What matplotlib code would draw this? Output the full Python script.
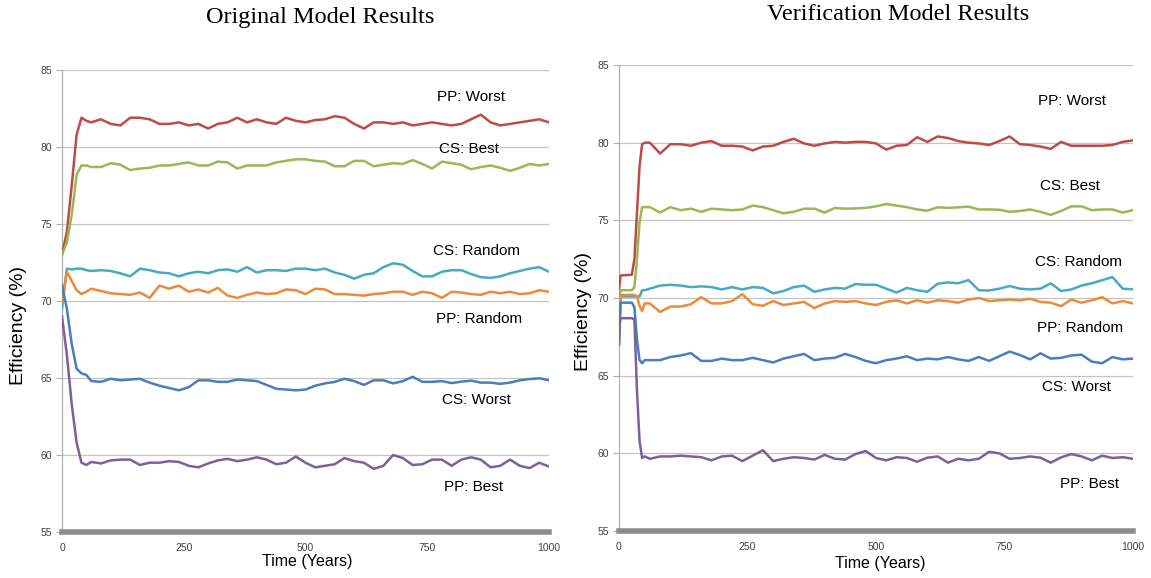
import matplotlib
matplotlib.use("Agg")
import matplotlib.pyplot as plt

# tiempos (años) de cada panel
years_orig = [0, 10, 20, 30, 40, 50] + list(range(60, 1001, 20))
years_verif = [0, 3, 25, 30, 35, 40, 45, 50] + list(range(60, 1001, 20))

# Original Model Results
orig_pp_worst = [73.0, 74.5, 77.5, 80.8, 81.9, 81.7,
                 81.6, 81.8, 81.5, 81.4, 81.9, 81.9, 81.8, 81.5,
                 81.5, 81.6, 81.4, 81.5, 81.2, 81.5, 81.6, 81.9, 81.6, 81.8,
                 81.6, 81.5, 81.9, 81.7, 81.6, 81.75, 81.8, 82.0, 81.9, 81.5,
                 81.2, 81.6, 81.6, 81.5, 81.6, 81.4, 81.5, 81.6, 81.5, 81.4,
                 81.5, 81.8, 82.1, 81.6, 81.4, 81.5, 81.6, 81.7, 81.8, 81.6]
orig_cs_best = [73.0, 73.8, 75.6, 78.2, 78.8, 78.8,
                78.7, 78.7, 78.95, 78.85, 78.5, 78.6, 78.65, 78.8,
                78.8, 78.9, 79.0, 78.8, 78.8, 79.05, 79.0, 78.6, 78.8, 78.8,
                78.8, 79.0, 79.1, 79.2, 79.2, 79.1, 79.05, 78.75, 78.75, 79.1,
                79.1, 78.75, 78.85, 78.95, 78.9, 79.15, 78.9, 78.6, 79.05, 78.95,
                78.85, 78.55, 78.7, 78.8, 78.65, 78.45, 78.65, 78.9, 78.8, 78.9]
orig_cs_random = [69.5, 72.1, 72.05, 72.1, 72.1, 72.0,
                  71.95, 72.0, 71.95, 71.8, 71.6, 72.1, 72.0, 71.85,
                  71.8, 71.6, 71.8, 71.9, 71.8, 72.0, 72.05, 71.9, 72.2, 71.85,
                  72.0, 72.0, 71.95, 72.1, 72.1, 72.0, 72.1, 71.85, 71.7, 71.45,
                  71.7, 71.8, 72.2, 72.45, 72.35, 71.95, 71.6, 71.6, 71.9, 72.0,
                  72.0, 71.75, 71.55, 71.5, 71.6, 71.8, 71.95, 72.1, 72.2, 71.9]
orig_pp_random = [70.0, 71.9, 71.3, 70.7, 70.45, 70.6,
                  70.8, 70.65, 70.5, 70.45, 70.4, 70.55, 70.2, 71.0,
                  70.8, 71.0, 70.6, 70.75, 70.55, 70.85, 70.35, 70.2, 70.4, 70.55,
                  70.45, 70.5, 70.75, 70.7, 70.45, 70.8, 70.75, 70.45, 70.45, 70.4,
                  70.35, 70.45, 70.5, 70.6, 70.6, 70.4, 70.6, 70.5, 70.2, 70.6,
                  70.55, 70.45, 70.4, 70.6, 70.5, 70.6, 70.45, 70.5, 70.7, 70.6]
orig_cs_worst = [71.0, 69.5, 67.2, 65.6, 65.3, 65.2,
                 64.8, 64.75, 64.95, 64.85, 64.9, 64.95, 64.7, 64.5,
                 64.35, 64.2, 64.4, 64.85, 64.85, 64.75, 64.75, 64.9, 64.85, 64.8,
                 64.55, 64.3, 64.25, 64.2, 64.25, 64.5, 64.65, 64.75, 64.95, 64.8,
                 64.55, 64.85, 64.85, 64.65, 64.8, 65.08, 64.75, 64.75, 64.8, 64.67,
                 64.76, 64.83, 64.7, 64.7, 64.62, 64.7, 64.85, 64.93, 64.98, 64.85]
orig_pp_best = [69.0, 66.5, 63.3, 60.8, 59.5, 59.35,
                59.55, 59.45, 59.65, 59.7, 59.7, 59.35, 59.5, 59.5,
                59.6, 59.55, 59.3, 59.2, 59.45, 59.65, 59.75, 59.6, 59.7, 59.85,
                59.7, 59.4, 59.5, 59.9, 59.5, 59.2, 59.3, 59.4, 59.8, 59.6,
                59.5, 59.1, 59.3, 60.0, 59.8, 59.35, 59.4, 59.7, 59.7, 59.3,
                59.7, 59.85, 59.7, 59.2, 59.3, 59.7, 59.3, 59.15, 59.5, 59.25]

# Verification Model Results
verif_pp_worst = [70.5, 71.45, 71.5, 72.5, 75.5, 78.5, 79.9, 80.0,
                  80.0, 79.3, 79.9, 79.9, 79.8, 80.0, 80.1, 79.8,
                  79.8, 79.75, 79.5, 79.75, 79.8, 80.05, 80.25, 79.95, 79.8, 79.95,
                  80.05, 80.0, 80.05, 80.05, 79.95, 79.55, 79.8, 79.85, 80.35, 80.05,
                  80.4, 80.3, 80.1, 80.0, 79.95, 79.85, 80.1, 80.4, 79.9, 79.85,
                  79.75, 79.6, 80.05, 79.8, 79.8, 79.8, 79.8, 79.85, 80.05, 80.15]
verif_cs_best = [70.0, 70.5, 70.5, 70.7, 72.5, 74.9, 75.85, 75.85,
                 75.85, 75.5, 75.85, 75.65, 75.75, 75.55, 75.75, 75.7,
                 75.65, 75.7, 75.95, 75.85, 75.65, 75.45, 75.55, 75.75, 75.75, 75.5,
                 75.8, 75.75, 75.77, 75.8, 75.9, 76.05, 75.95, 75.85, 75.7, 75.62,
                 75.84, 75.8, 75.84, 75.88, 75.7, 75.7, 75.68, 75.55, 75.6, 75.7,
                 75.55, 75.35, 75.6, 75.9, 75.9, 75.65, 75.7, 75.7, 75.5, 75.66]
verif_cs_random = [67.0, 70.1, 70.1, 70.1, 70.1, 70.1, 70.5, 70.5,
                   70.6, 70.8, 70.85, 70.8, 70.7, 70.75, 70.7, 70.55,
                   70.7, 70.55, 70.7, 70.65, 70.3, 70.45, 70.7, 70.8, 70.4, 70.55,
                   70.65, 70.6, 70.9, 70.85, 70.85, 70.6, 70.35, 70.65, 70.5, 70.4,
                   70.92, 71.0, 70.95, 71.15, 70.5, 70.48, 70.6, 70.77, 70.6, 70.55,
                   70.6, 70.94, 70.45, 70.55, 70.8, 70.95, 71.15, 71.35, 70.6, 70.56]
verif_pp_random = [67.5, 70.2, 70.2, 70.2, 70.1, 69.5, 69.15, 69.65,
                   69.65, 69.1, 69.45, 69.45, 69.6, 70.05, 69.65, 69.65,
                   69.8, 70.25, 69.6, 69.5, 69.8, 69.55, 69.65, 69.75, 69.35, 69.65,
                   69.8, 69.75, 69.8, 69.65, 69.55, 69.75, 69.85, 69.65, 69.85, 69.7,
                   69.85, 69.8, 69.7, 69.9, 70.0, 69.8, 69.85, 69.9, 69.85, 69.95,
                   69.75, 69.7, 69.48, 69.9, 69.7, 69.85, 70.05, 69.65, 69.8, 69.65]
verif_cs_worst = [67.0, 69.7, 69.7, 69.4, 67.3, 66.0, 65.8, 66.0,
                  66.0, 66.0, 66.2, 66.3, 66.45, 65.95, 65.95, 66.1,
                  66.0, 66.0, 66.15, 66.0, 65.85, 66.1, 66.25, 66.4, 66.0, 66.1,
                  66.15, 66.4, 66.2, 65.95, 65.8, 66.0, 66.1, 66.25, 66.0, 66.1,
                  66.05, 66.2, 66.05, 65.95, 66.2, 65.95, 66.25, 66.55, 66.33, 66.05,
                  66.44, 66.1, 66.15, 66.3, 66.35, 65.9, 65.8, 66.2, 66.05, 66.1]
verif_pp_best = [68.0, 68.7, 68.7, 68.6, 64.0, 60.8, 59.7, 59.8,
                 59.65, 59.8, 59.8, 59.85, 59.8, 59.75, 59.55, 59.8,
                 59.85, 59.5, 59.85, 60.2, 59.5, 59.65, 59.75, 59.7, 59.6, 59.9,
                 59.65, 59.6, 59.95, 60.15, 59.7, 59.55, 59.75, 59.7, 59.46, 59.72,
                 59.8, 59.4, 59.65, 59.55, 59.65, 60.1, 60.0, 59.65, 59.7, 59.8,
                 59.72, 59.4, 59.74, 59.95, 59.8, 59.55, 59.85, 59.7, 59.75, 59.65]

names = ["PP: Worst", "CS: Best", "CS: Random", "PP: Random", "CS: Worst", "PP: Best"]
colors = ["#BE4B48", "#98B954", "#46AAC5", "#EC8A3C", "#4A7EBB", "#7D5FA0"]

orig = [orig_pp_worst, orig_cs_best, orig_cs_random, orig_pp_random, orig_cs_worst, orig_pp_best]
verif = [verif_pp_worst, verif_cs_best, verif_cs_random, verif_pp_random, verif_cs_worst, verif_pp_best]

# donde van las etiquetas de cada curva (x, y en datos)
pos_orig = [(840, 83.25), (836, 79.9), (852, 73.25), (856, 68.8), (850, 63.6), (844, 57.9)]
pos_verif = [(881, 82.7), (877, 77.2), (893, 72.3), (897, 68.1), (889, 64.3), (916, 58.0)]

sans = "Liberation Sans"


def panel(ax, years, series, pos, ylab_xy, xlab_xy):
    for vals, c in zip(series, colors):
        ax.plot(years, vals, color=c, lw=1.8, zorder=3)
    for name, (x, y) in zip(names, pos):
        ax.text(x, y, name, ha="center", va="center", fontsize=11, family=sans, color="black")

    ax.set_xlim(0, 1000)
    ax.set_ylim(55, 85)
    ax.set_xticks([0, 250, 500, 750, 1000])
    ax.set_yticks([55, 60, 65, 70, 75, 80, 85])
    ax.grid(axis="y", color="#c4c4c4", lw=0.9)
    ax.set_axisbelow(True)

    for s in ["top", "right"]:
        ax.spines[s].set_visible(False)
    ax.spines["left"].set_color("#b0b0b0")
    ax.spines["left"].set_linewidth(0.9)
    ax.spines["bottom"].set_color("#8c8c8c")
    ax.spines["bottom"].set_linewidth(4)
    ax.spines["bottom"].set_zorder(4)

    ax.tick_params(axis="y", length=4, width=0.8, color="#b0b0b0", labelsize=7.5,
                   labelcolor="#404040", pad=3)
    ax.tick_params(axis="x", length=0, labelsize=7.5, labelcolor="#404040", pad=8)
    for lab in ax.get_xticklabels() + ax.get_yticklabels():
        lab.set_family(sans)

    ax.set_ylabel("Efficiency (%)", fontsize=14, family=sans)
    ax.yaxis.set_label_coords(*ylab_xy)
    ax.set_xlabel("Time (Years)", fontsize=11.5, family=sans)
    ax.xaxis.set_label_coords(*xlab_xy)


fig = plt.figure(figsize=(11.51, 5.78), dpi=100)

ax1 = fig.add_axes([62 / 1151, 1 - 532 / 578, 487 / 1151, 462 / 578])
panel(ax1, years_orig, orig, pos_orig, (-0.072, 0.446), (0.503, -0.048))

ax2 = fig.add_axes([619 / 1151, 1 - 531 / 578, 514 / 1151, 466 / 578])
panel(ax2, years_verif, verif, pos_verif, (-0.0525, 0.472), (0.508, -0.054))

fig.text(320 / 1151, 1 - 18 / 578, "Original Model Results", ha="center", va="center",
         fontsize=17.5, family="Liberation Serif")
fig.text(898 / 1151, 1 - 14 / 578, "Verification Model Results", ha="center", va="center",
         fontsize=17.5, family="Liberation Serif")

fig.savefig("out.png", dpi=100)
